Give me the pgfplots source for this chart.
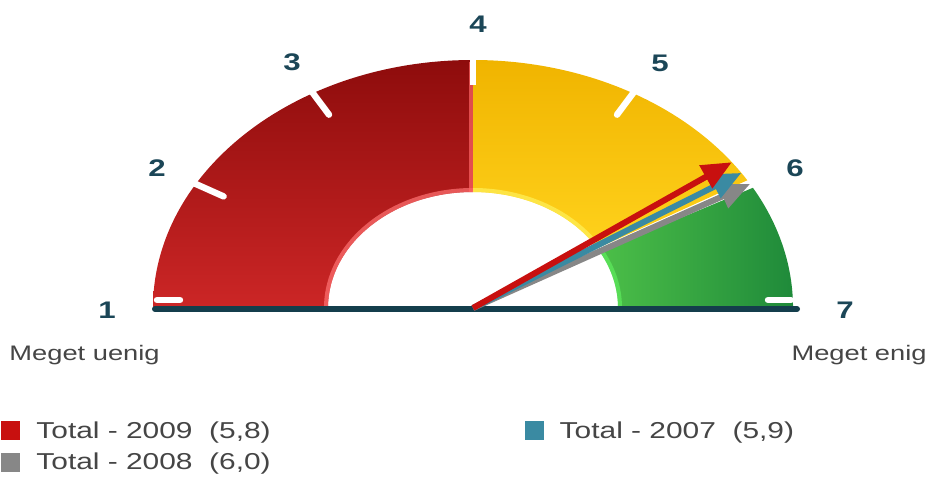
\documentclass[border=0pt]{standalone}
\usepackage{pgfplots}
\pgfplotsset{compat=1.18}
\usepackage{fontspec}
\setmainfont{Liberation Sans}[FakeStretch=1.3]
\usetikzlibrary{arrows.meta}

\definecolor{redDark}{HTML}{8E0C0C}
\definecolor{redLight}{HTML}{CC2626}
\definecolor{yelDark}{HTML}{F0B400}
\definecolor{yelLight}{HTML}{FFD21C}
\definecolor{grnDark}{HTML}{1F8A3A}
\definecolor{grnLight}{HTML}{4CBF48}
\definecolor{baseCol}{HTML}{143E4C}
\definecolor{numCol}{HTML}{1B4657}
\definecolor{txtCol}{HTML}{454545}
\definecolor{arrRed}{HTML}{C8100F}
\definecolor{arrTeal}{HTML}{3A8AA2}
\definecolor{arrGray}{HTML}{878787}

\begin{document}
\begin{tikzpicture}
\begin{axis}[
    width=465pt, height=238.5pt, scale only axis,
    xmin=0, xmax=930, ymin=0, ymax=477,
    hide axis, clip=false,
    legend columns=2,
    legend cell align=left,
    legend style={draw=none, fill=none, inner sep=0pt,
        at={(axis cs:1,60)}, anchor=north west,
        font=\fontsize{11.5}{13}\selectfont, text=txtCol, row sep=2pt,
        /tikz/every odd column/.append style={column sep=6pt},
        /tikz/every even column/.append style={column sep=125pt}},
    legend image code/.code={\fill[#1, draw=none] (0pt,-4.5pt) rectangle (9.5pt,5pt);},
]
% gauge segments (center 473,169)
\shade[top color=redDark, bottom color=redLight]
  (axis cs:153,169) arc[start angle=180, end angle=90, x radius=320, y radius=248]
  -- (axis cs:473,285) arc[start angle=90, end angle=180, x radius=145, y radius=116] -- cycle;
\shade[top color=yelDark, bottom color=yelLight]
  (axis cs:473,417) arc[start angle=90, end angle=31, x radius=320, y radius=248]
  -- (axis cs:597.3,228.7) arc[start angle=31, end angle=90, x radius=145, y radius=116] -- cycle;
\shade[left color=grnLight, right color=grnDark]
  (axis cs:752.9,289.2) arc[start angle=29, end angle=0, x radius=320, y radius=248]
  -- (axis cs:618,169) arc[start angle=0, end angle=29, x radius=145, y radius=116] -- cycle;
% rim highlights
\draw[red!55!white, line width=2pt, opacity=0.7]
  (axis cs:473,287) arc[start angle=90, end angle=180, x radius=147, y radius=118];
\draw[red!60!white, line width=2pt, opacity=0.7] (axis cs:471,285) -- (axis cs:471,415);
\draw[yellow!60!white, line width=2pt, opacity=0.6]
  (axis cs:473,287) arc[start angle=90, end angle=31, x radius=147, y radius=118];
\draw[green!60!white, line width=2pt, opacity=0.5]
  (axis cs:620,169) arc[start angle=0, end angle=29, x radius=147, y radius=118];
% white notches
\draw[white, line width=3.2pt, line cap=round] (axis cs:193.1,294.2) -- (axis cs:223.6,280.6);
\draw[white, line width=3.2pt, line cap=round] (axis cs:311.4,385.9) -- (axis cs:329,362.3);
\draw[white, line width=3.2pt] (axis cs:473,421) -- (axis cs:473,392);
\draw[white, line width=3.2pt, line cap=round] (axis cs:634.6,385.9) -- (axis cs:617,362.3);
\draw[white, line width=3.2pt, line cap=round] (axis cs:157,177) -- (axis cs:180,177);
\draw[white, line width=3.2pt, line cap=round] (axis cs:768,177) -- (axis cs:791,177);
% baseline
\draw[baseCol, line width=3pt, line cap=round] (axis cs:155,168) -- (axis cs:797,168);

% arrows: values 6.0 (2008), 5.9 (2007), 5.8 (2009)
\addplot[forget plot, arrGray, line width=3pt, -{Triangle[length=15pt, width=12.5pt]}]
  coordinates {(473,169) (750.1,293.0)};
\addplot[forget plot, arrTeal, line width=3pt, -{Triangle[length=15pt, width=12.5pt]}]
  coordinates {(473,169) (741.4,304.1)};
\addplot[forget plot, arrRed, line width=3pt, -{Triangle[length=15pt, width=12.5pt]}]
  coordinates {(473,169) (731.9,314.8)};

% legend (order: 2009, 2007, 2008)
\addlegendimage{fill=arrRed}
\addlegendentry{Total - 2009 \ (5,8)}
\addlegendimage{fill=arrTeal}
\addlegendentry{Total - 2007 \ (5,9)}
\addlegendimage{fill=arrGray}
\addlegendentry{Total - 2008 \ (6,0)}

% scale numbers
\begin{scope}[every node/.style={text=numCol, font=\fontsize{12}{14}\selectfont\bfseries}]
\node at (axis cs:107,167) {1};
\node at (axis cs:157,309) {2};
\node at (axis cs:292,415) {3};
\node at (axis cs:478,453) {4};
\node at (axis cs:660,414) {5};
\node at (axis cs:795,309) {6};
\node at (axis cs:845,167) {7};
\end{scope}
\node[anchor=west, inner sep=0pt, text=txtCol, font=\fontsize{10.5}{12}\selectfont] at (axis cs:9,122) {Meget uenig};
\node[anchor=east, inner sep=0pt, text=txtCol, font=\fontsize{10.5}{12}\selectfont] at (axis cs:927,122) {Meget enig};
\end{axis}
\pgfresetboundingbox
\path (0,0) rectangle (465pt,238.5pt);
\end{tikzpicture}
\end{document}
